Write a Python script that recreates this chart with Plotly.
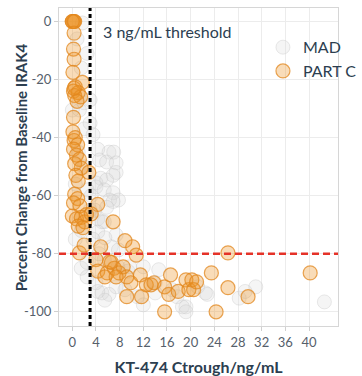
import plotly.graph_objects as go

# MAD cohort: trough concentration (ng/mL) vs % change from baseline IRAK4
mad_ctrough = [1.7, 0.8, 2.5, 1.5, 2.0, 3.0, 1.2, 0.0, 3.0, 2.0, 3.5, 4.3, 6.2, 7.0, 4.6,
               5.8, 7.4, 7.4, 4.8, 6.9, 5.8, 4.0, 4.0, 5.4, 6.9, 6.3, 7.8, 6.9, 5.8, 3.0,
               3.8, 4.3, 5.4, 5.0, 4.3, 7.4, 5.5, 6.6, 7.8, 5.4, 7.7, 9.4, 9.7, 12.0, 14.6,
               14.0, 14.0, 12.0, 11.0, 8.9, 7.4, 6.2, 5.0, 4.0, 5.5, 4.3, 16.9, 17.7, 19.2,
               18.6, 19.2, 21.2, 22.5, 22.8, 28.2, 29.2, 31.0, 42.6, 0.5, 1.5, 2.5, 1.0,
               2.0, 0.5, 2.5, 1.5, 3.5, 3.2, 4.5, 2.5]
mad_change = [-0.5, -6, -11, -16, -28, -27, -30.5, -30.5, -35, -37, -39, -44, -45, -45, -47.7,
              -48.4, -48.7, -52, -54, -53, -54.6, -55.6, -57, -58, -59, -61.5, -61.5, -62, -64, -65,
              -65, -68, -69, -69, -72.5, -73.5, -74.5, -77.6, -78.7, -82, -84.5, -86, -84.5, -84.5, -85.5,
              -90, -93.5, -97.6, -94.8, -92.4, -91.4, -94, -93.5, -90, -96, -93, -92.4, -94.8, -98.3,
              -98.3, -100, -91.4, -93.5, -94, -95.3, -93, -91.4, -96.6, -75, -85, -88, -45,
              -50, -56, -58, -72, -75, -60, -80, -83]

# Part C cohort
partc_ctrough = [0.0, 0.2, 0.4, 0.0, 0.3,
                 0.3, 0.2, 0.3, 0.1,
                 1.7, 0.5, 0.2, 1.0, 0.4, 1.4, 0.8, 0.3,
                 0.2,
                 0.1, 0.5, 0.3, 0.9, 0.2, 0.7, 1.2, 0.4, 1.5, 0.6, 1.0, 2.8,
                 0.4, 0.9, 0.2, 1.3,
                 0.0, 0.7, 1.5, 2.1, 1.0, 1.8, 2.4,
                 3.2, 4.3, 6.9,
                 8.9, 10.2, 4.8, 1.2, 2.0, 10.8,
                 4.0, 4.3, 5.9, 6.6, 7.1, 7.9, 8.6, 9.2, 9.9, 9.2, 11.5, 11.7, 12.5, 13.3,
                 13.8, 15.6, 16.6, 16.3, 15.6, 17.9, 19.2, 19.7, 20.2, 20.5, 21.0, 23.5,
                 24.3, 26.3, 26.3, 29.7, 40.2, 5.5, 7.4, 6.3]
partc_change = [0, 0, 0, 0, 0,
                -4, -9.5, -13, -17.5,
                -21, -22.5, -24, -24.5, -25.5, -26, -27.5, -23,
                -33,
                -38, -40, -41, -42.5, -44, -46, -47.5, -49, -50.5, -53, -55, -52,
                -59.5, -61, -62.5, -63.5,
                -67, -68, -67.5, -69, -70.5, -71, -66.5,
                -66.3, -63, -69,
                -75.5, -77.6, -77.6, -79.7, -77, -80.5,
                -82, -86, -86.6, -83, -85, -86.6, -84.5, -88, -90, -94.8, -87.3, -94.8, -90.7, -90.7,
                -90, -91.4, -87.3, -94, -100, -93, -89, -92.4, -89, -92.4, -89.7, -86.6,
                -100, -79.7, -91.7, -94.8, -86.6, -88, -88, -82.8]

threshold_ng_ml = 3
target_change = -80
x_ticks = [0, 4, 8, 12, 16, 20, 24, 28, 32, 36, 40]
y_ticks = [0, -20, -40, -60, -80, -100]

FONT = "Lato"
INK = "#2c3e50"

fig = go.Figure()
fig.add_trace(go.Scatter(
    x=mad_ctrough, y=mad_change, mode="markers", name="MAD",
    marker=dict(size=14, color="rgba(215,215,215,0.25)",
                line=dict(color="rgba(200,200,200,0.4)", width=1)),
))
fig.add_trace(go.Scatter(
    x=partc_ctrough, y=partc_change, mode="markers", name="PART C",
    marker=dict(size=14, color="rgba(236,145,35,0.32)",
                line=dict(color="rgba(226,135,30,0.75)", width=1.2)),
))

# threshold and target reference lines
fig.add_shape(type="line", xref="x", yref="paper", x0=threshold_ng_ml, x1=threshold_ng_ml,
              y0=0, y1=1, line=dict(color="black", width=3, dash="4px,3px"))
fig.add_shape(type="line", xref="paper", yref="y", x0=0, x1=1,
              y0=target_change, y1=target_change,
              line=dict(color="#e53228", width=2.5, dash="7px,4px"))

fig.add_annotation(x=threshold_ng_ml + 1.9, y=-3.3, xref="x", yref="y",
                   text="3 ng/mL threshold", showarrow=False, xanchor="left",
                   font=dict(family=FONT, size=16, color=INK))

# y-axis title drawn as a rotated annotation for precise placement
fig.add_annotation(x=-0.135, y=0.5, xref="paper", yref="paper",
                   text="<b>Percent Change from Baseline IRAK4</b>", textangle=-90,
                   showarrow=False, xanchor="center", yanchor="middle",
                   font=dict(family=FONT, size=15, color=INK))

fig.update_layout(
    width=362, height=376,
    margin=dict(l=59, r=0, t=8, b=50),
    paper_bgcolor="white", plot_bgcolor="white",
    font=dict(family=FONT, color=INK),
    showlegend=True,
    legend=dict(x=0.731, y=0.93, xanchor="left", yanchor="top",
                bgcolor="rgba(0,0,0,0)", font=dict(family=FONT, size=16, color=INK),
                tracegroupgap=0),
)
fig.update_xaxes(
    range=[-2.25, 44.9], tickvals=x_ticks, ticktext=[str(v) for v in x_ticks],
    showgrid=True, gridcolor="#ececec", gridwidth=1, zeroline=False,
    showline=True, linecolor="#d6d6d6", linewidth=1, mirror=True,
    ticks="outside", ticklen=4, tickcolor="#d0d0d0",
    tickfont=dict(family=FONT, size=13, color="#56606b"),
    title=dict(text="<b>KT-474 Ctrough/ng/mL</b>", standoff=14,
               font=dict(family=FONT, size=16, color=INK)),
)
fig.update_yaxes(
    range=[-104.9, 4.65], tickvals=y_ticks, ticktext=[str(v) for v in y_ticks],
    showgrid=True, gridcolor="#ececec", gridwidth=1, zeroline=False,
    showline=True, linecolor="#d6d6d6", linewidth=1, mirror=True,
    ticks="outside", ticklen=4, tickcolor="#d0d0d0",
    tickfont=dict(family=FONT, size=13, color="#56606b"),
)

fig.write_html("out.html")
